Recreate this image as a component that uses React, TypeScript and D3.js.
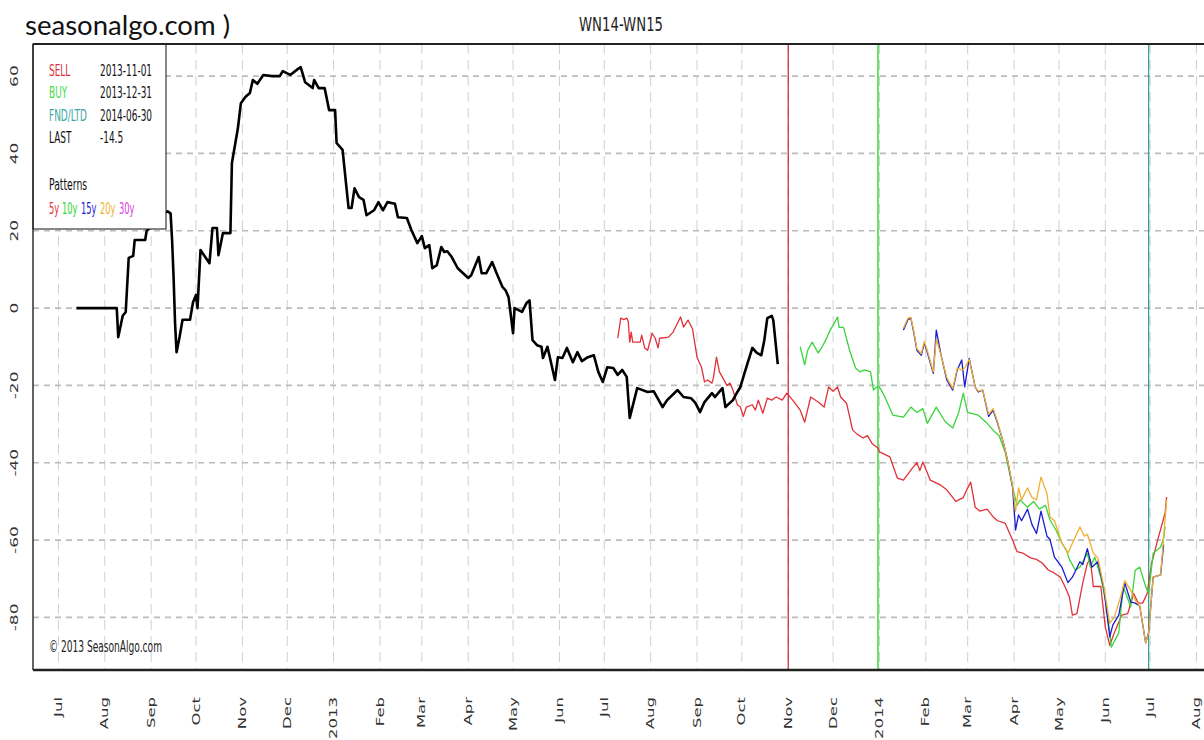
import React from "react";
import * as d3 from "d3";

type P = [string, number];

const spread: P[] = [
  ["2012-07-13",0],["2012-08-09",0],["2012-08-10",-7.5],["2012-08-13",-2],["2012-08-15",-1],["2012-08-17",13],["2012-08-20",13.5],["2012-08-21",17.6],["2012-08-28",17.6],["2012-08-29",20],["2012-09-04",22],["2012-09-07",24],["2012-09-12",25],["2012-09-14",24.5],["2012-09-15",17.6],["2012-09-16",8],["2012-09-17",-4],["2012-09-18",-11.4],["2012-09-20",-7.5],["2012-09-22",-3],["2012-09-27",-3],["2012-09-29",1.5],["2012-10-01",3.4],["2012-10-02",0],["2012-10-04",15],["2012-10-10",11.6],["2012-10-12",20.7],["2012-10-15",20.7],["2012-10-16",13.7],["2012-10-19",19.4],["2012-10-24",19.4],["2012-10-25",37.5],["2012-10-29",46.5],["2012-10-31",53],["2012-11-03",54.6],["2012-11-06",55.6],["2012-11-08",59],["2012-11-11",58],["2012-11-15",60.3],["2012-11-21",60],["2012-11-26",60],["2012-11-28",61.3],["2012-12-03",60.3],["2012-12-08",61.8],["2012-12-10",62.3],["2012-12-13",58.4],["2012-12-18",56.9],["2012-12-19",59],["2012-12-22",56.9],["2012-12-26",56.9],["2012-12-29",51.2],["2013-01-02",51.2],["2013-01-03",42.7],["2013-01-07",40.9],["2013-01-11",25.9],["2013-01-13",25.9],["2013-01-15",31],["2013-01-18",28.7],["2013-01-21",28],["2013-01-23",24],["2013-01-28",25.3],["2013-01-31",27.4],["2013-02-03",25.3],["2013-02-06",27.4],["2013-02-11",27],["2013-02-13",23.5],["2013-02-19",23.3],["2013-02-22",20.2],["2013-02-26",16.8],["2013-03-01",18.6],["2013-03-03",15.5],["2013-03-06",16.3],["2013-03-08",10.3],["2013-03-11",11.1],["2013-03-14",15.8],["2013-03-16",14.5],["2013-03-18",14.7],["2013-03-21",13.2],["2013-03-25",10.3],["2013-04-01",7.8],["2013-04-03",8.5],["2013-04-08",13.2],["2013-04-10",9],["2013-04-13",9],["2013-04-17",11.9],["2013-04-20",9],["2013-04-24",5.4],["2013-04-26",4.6],["2013-04-28",2.8],["2013-05-01",-6.5],["2013-05-02",0],["2013-05-07",-1],["2013-05-10",1.3],["2013-05-12",2],["2013-05-14",-8.3],["2013-05-17",-9.6],["2013-05-20",-10],["2013-05-21",-12.9],["2013-05-24",-10],["2013-05-29",-18.6],["2013-05-31",-12.7],["2013-06-03",-12.9],["2013-06-06",-10.3],["2013-06-10",-14],["2013-06-13",-11.4],["2013-06-16",-13.7],["2013-06-20",-12.7],["2013-06-24",-12.2],["2013-06-27",-16.5],["2013-06-30",-19.1],["2013-07-03",-15.3],["2013-07-07",-15.5],["2013-07-10",-17.3],["2013-07-13",-16],["2013-07-16",-17.8],["2013-07-18",-28.4],["2013-07-23",-20.7],["2013-07-30",-21.7],["2013-08-03",-21.5],["2013-08-09",-25.6],["2013-08-12",-23.8],["2013-08-19",-21.2],["2013-08-23",-23],["2013-08-28",-23.3],["2013-08-31",-24.6],["2013-09-03",-26.9],["2013-09-06",-24.3],["2013-09-11",-22],["2013-09-13",-23],["2013-09-18",-20.7],["2013-09-20",-25.6],["2013-09-25",-23.8],["2013-09-28",-21.7],["2013-09-30",-20.4],["2013-10-03",-16.5],["2013-10-08",-10.3],["2013-10-11",-11.6],["2013-10-14",-12.2],["2013-10-16",-8.3],["2013-10-18",-2.6],["2013-10-21",-2],["2013-10-22",-3.1],["2013-10-25",-14.5]
];

const pattern5y: P[] = [
  ["2013-07-10",-7.8],["2013-07-12",-2.6],["2013-07-14",-3],["2013-07-16",-2.6],["2013-07-17",-3.4],["2013-07-18",-8.8],["2013-07-19",-6.2],["2013-07-20",-8.8],["2013-07-25",-8.8],["2013-07-26",-7],["2013-07-28",-10.3],["2013-07-30",-10.9],["2013-08-02",-6.5],["2013-08-04",-7.8],["2013-08-06",-10.3],["2013-08-07",-7.8],["2013-08-13",-7.5],["2013-08-16",-6.2],["2013-08-21",-2.3],["2013-08-23",-4.9],["2013-08-26",-3.1],["2013-08-29",-5.4],["2013-09-01",-12.7],["2013-09-04",-15.3],["2013-09-06",-19.1],["2013-09-08",-18.6],["2013-09-11",-19.4],["2013-09-12",-18],["2013-09-14",-12.7],["2013-09-16",-16.5],["2013-09-21",-20],["2013-09-23",-19.4],["2013-09-25",-21.2],["2013-09-28",-25],["2013-09-30",-25.6],["2013-10-02",-28],["2013-10-04",-25.6],["2013-10-08",-25],["2013-10-10",-26.4],["2013-10-12",-23.8],["2013-10-15",-27.2],["2013-10-18",-23.3],["2013-10-21",-23.8],["2013-10-24",-23],["2013-10-28",-23.8],["2013-10-31",-22],["2013-11-04",-23.8],["2013-11-09",-26.4],["2013-11-12",-29.5],["2013-11-16",-23],["2013-11-21",-24.3],["2013-11-25",-25.6],["2013-11-28",-20.4],["2013-12-01",-21.5],["2013-12-04",-20.4],["2013-12-06",-23],["2013-12-10",-24.6],["2013-12-14",-31.5],["2013-12-17",-32.6],["2013-12-21",-33.6],["2013-12-24",-33],["2013-12-27",-35],["2013-12-31",-36.2],["2014-01-01",-37.2],["2014-01-08",-38.5],["2014-01-13",-44],["2014-01-17",-44.5],["2014-01-23",-41.4],["2014-01-26",-40],["2014-01-28",-42],["2014-01-30",-39.8],["2014-02-04",-44.5],["2014-02-11",-45.8],["2014-02-15",-47],["2014-02-21",-50],["2014-02-26",-49],["2014-03-01",-46.5],["2014-03-03",-45],["2014-03-06",-51.5],["2014-03-09",-52.5],["2014-03-14",-52],["2014-03-18",-54],["2014-03-21",-55],["2014-03-26",-55.6],["2014-03-31",-60],["2014-04-03",-63],["2014-04-07",-63.4],["2014-04-12",-64.6],["2014-04-16",-65],["2014-04-20",-66],["2014-04-24",-67.8],["2014-04-27",-68.3],["2014-05-02",-69.6],["2014-05-05",-72],["2014-05-08",-74.7],["2014-05-10",-79.4],["2014-05-13",-79],["2014-05-17",-71],["2014-05-20",-66],["2014-05-22",-65],["2014-05-24",-72],["2014-05-29",-72],["2014-06-01",-82.5],["2014-06-04",-87.2],["2014-06-07",-84],["2014-06-12",-79.4],["2014-06-16",-79],["2014-06-20",-73.8],["2014-06-23",-76.3],["2014-06-26",-76.3],["2014-06-29",-73.8],["2014-07-02",-66],["2014-07-06",-60],["2014-07-11",-53],["2014-07-12",-48.9]
];

const pattern10y: P[] = [
  ["2013-11-09",-10],["2013-11-12",-14.7],["2013-11-14",-10.9],["2013-11-17",-8.8],["2013-11-21",-11.6],["2013-11-24",-9.8],["2013-11-27",-7.5],["2013-11-29",-5.7],["2013-12-01",-4.4],["2013-12-04",-2.3],["2013-12-05",-5],["2013-12-08",-5],["2013-12-12",-10.9],["2013-12-16",-15.5],["2013-12-19",-16.5],["2013-12-22",-16],["2013-12-26",-16.5],["2013-12-28",-21.2],["2013-12-30",-20.4],["2014-01-01",-20.4],["2014-01-04",-22.5],["2014-01-10",-27.7],["2014-01-17",-28.2],["2014-01-22",-25.6],["2014-01-26",-27],["2014-01-30",-26],["2014-02-02",-29.8],["2014-02-08",-25.6],["2014-02-14",-29.4],["2014-02-19",-31],["2014-02-23",-27],["2014-02-26",-22],["2014-03-01",-27],["2014-03-08",-27.7],["2014-03-14",-29.8],["2014-03-19",-32],["2014-03-22",-33],["2014-03-26",-37.2],["2014-03-29",-42.7],["2014-03-31",-46.3],["2014-04-03",-51],["2014-04-05",-49.6],["2014-04-10",-51.5],["2014-04-14",-50],["2014-04-18",-52],["2014-04-22",-51],["2014-04-25",-54.8],["2014-04-29",-57.4],["2014-05-03",-60.8],["2014-05-06",-62.6],["2014-05-08",-65],["2014-05-12",-67.8],["2014-05-15",-67],["2014-05-20",-63.4],["2014-05-22",-67],["2014-05-25",-64.4],["2014-05-29",-69.6],["2014-06-02",-77.3],["2014-06-05",-87.7],["2014-06-10",-84],["2014-06-13",-72],["2014-06-18",-77.3],["2014-06-21",-67.8],["2014-06-24",-67],["2014-06-28",-72],["2014-06-30",-73.8],["2014-07-03",-63.4],["2014-07-08",-61.8],["2014-07-10",-59.5],["2014-07-11",-56.6]
];

const pattern15y: P[] = [
  ["2014-01-17",-5.7],["2014-01-20",-3],["2014-01-22",-2.6],["2014-01-24",-6.5],["2014-01-26",-10.9],["2014-01-29",-12.2],["2014-01-31",-9],["2014-02-02",-11.5],["2014-02-06",-16.9],["2014-02-08",-5.7],["2014-02-11",-11.8],["2014-02-15",-18.6],["2014-02-19",-21.2],["2014-02-22",-16],["2014-02-25",-13.4],["2014-02-27",-20.4],["2014-03-02",-13],["2014-03-06",-20.4],["2014-03-08",-21.7],["2014-03-11",-21.2],["2014-03-15",-28],["2014-03-18",-26.4],["2014-03-21",-29.8],["2014-03-25",-35],["2014-03-28",-40],["2014-03-31",-46.3],["2014-04-02",-57.4],["2014-04-04",-53.5],["2014-04-06",-55],["2014-04-10",-52],["2014-04-13",-56],["2014-04-16",-58.3],["2014-04-19",-52.5],["2014-04-23",-59],["2014-04-25",-59.8],["2014-04-28",-64.4],["2014-05-03",-67],["2014-05-07",-71],["2014-05-10",-69.6],["2014-05-15",-65.6],["2014-05-17",-66.3],["2014-05-20",-62.2],["2014-05-23",-67],["2014-05-27",-65.6],["2014-05-31",-72.5],["2014-06-04",-85],["2014-06-06",-82],["2014-06-10",-79.4],["2014-06-14",-71],["2014-06-18",-76],["2014-06-21",-76.3],["2014-06-24",-77],["2014-06-28",-86.6],["2014-06-30",-83.8],["2014-07-03",-69.6],["2014-07-08",-69],["2014-07-10",-61.2]
];

const pattern20y: P[] = [
  ["2014-01-17",-5.2],["2014-01-20",-2.6],["2014-01-22",-2.4],["2014-01-24",-6],["2014-01-26",-10.5],["2014-01-29",-11.8],["2014-01-31",-8.6],["2014-02-02",-11],["2014-02-06",-16.5],["2014-02-08",-8],["2014-02-11",-12],["2014-02-15",-18],["2014-02-19",-20.8],["2014-02-22",-15.5],["2014-02-25",-16],["2014-02-27",-15.5],["2014-03-02",-13.3],["2014-03-06",-20.4],["2014-03-08",-21.5],["2014-03-11",-21.2],["2014-03-15",-27.5],["2014-03-18",-26],["2014-03-21",-29.5],["2014-03-25",-35],["2014-03-28",-40],["2014-03-31",-46],["2014-04-02",-52.5],["2014-04-04",-46.5],["2014-04-06",-49.6],["2014-04-10",-46.5],["2014-04-13",-49],["2014-04-16",-49.6],["2014-04-19",-43.7],["2014-04-23",-48],["2014-04-25",-54],["2014-04-28",-55],["2014-05-03",-60.8],["2014-05-07",-63.4],["2014-05-10",-60.8],["2014-05-15",-56.6],["2014-05-18",-59],["2014-05-20",-58.5],["2014-05-24",-63.4],["2014-05-27",-64.6],["2014-05-31",-72],["2014-06-04",-81.5],["2014-06-07",-80],["2014-06-11",-75],["2014-06-14",-70.5],["2014-06-18",-73],["2014-06-21",-75.5],["2014-06-24",-77],["2014-06-28",-86.6],["2014-06-30",-84],["2014-07-03",-69.6],["2014-07-08",-69],["2014-07-12",-49.6]
];

const yTicks = [-80, -60, -40, -20, 0, 20, 40, 60];
const sellDate = "2013-11-01";
const buyDate = "2013-12-31";
const fndDate = "2014-06-30";
const lastValue = "-14.5";

const legendRows = [
  { label: "SELL", value: sellDate, color: "#d8303c" },
  { label: "BUY", value: buyDate, color: "#44dd44" },
  { label: "FND/LTD", value: fndDate, color: "#3aa7a7" },
  { label: "LAST", value: lastValue, color: "#111111" },
];
const patternLegend = [
  { label: "5y", color: "#e0323a", x: 49 },
  { label: "10y", color: "#33d433", x: 62 },
  { label: "15y", color: "#1a1ad0", x: 81 },
  { label: "20y", color: "#f0b030", x: 100 },
  { label: "30y", color: "#e040e0", x: 119 },
];

const parse = d3.timeParse("%Y-%m-%d");

export default function App() {
  const W = 1204, H = 740;
  const L = 33, T = 44, R = 1204, B = 670;
  const x = d3.scaleTime().domain([parse("2012-06-14")!, parse("2014-08-06")!]).range([L, R]);
  const y = d3.scaleLinear().domain([-93.6, 68.3]).range([B, T]);
  const line = d3.line<P>().x((d) => x(parse(d[0])!)).y((d) => y(d[1]));
  const months = d3.timeMonth.range(parse("2012-07-01")!, parse("2014-08-02")!);
  const fmt = (d: Date) => (d.getMonth() === 0 ? d3.timeFormat("%Y")(d) : d3.timeFormat("%b")(d));
  const sx = 0.62;
  const ls = 0.56;

  const series = [
    { data: pattern5y, color: "#e0323a", w: 1.3 },
    { data: pattern10y, color: "#3ad43a", w: 1.3 },
    { data: pattern15y, color: "#1a1ad0", w: 1.3 },
    { data: pattern20y, color: "#eeb030", w: 1.3 },
  ];

  return (
    <svg width={W} height={H} style={{ position: "absolute", left: 0, top: 0, background: "#fff" }} fontFamily="DejaVu Sans">
      <rect x={0} y={0} width={W} height={H} fill="#fff" />
      {months.map((m, i) => (
        <line key={"v" + i} x1={x(m)} x2={x(m)} y1={T} y2={B} stroke="#cfcfcf" strokeWidth={1} strokeDasharray="10,6" />
      ))}
      {yTicks.map((t) => (
        <line key={"h" + t} x1={L} x2={R} y1={y(t)} y2={y(t)} stroke="#bcbcbc" strokeWidth={1.6} strokeDasharray="6,5" />
      ))}
      <line x1={x(parse(sellDate)!)} x2={x(parse(sellDate)!)} y1={T} y2={B} stroke="#cc2233" strokeWidth={1.2} />
      <line x1={x(parse(buyDate)!)} x2={x(parse(buyDate)!)} y1={T} y2={B} stroke="#44dd44" strokeWidth={1.6} />
      <line x1={x(parse(fndDate)!)} x2={x(parse(fndDate)!)} y1={T} y2={B} stroke="#2a9a8e" strokeWidth={1.2} />
      {series.map((s, i) => (
        <path key={"s" + i} d={line(s.data) || ""} fill="none" stroke={s.color} strokeWidth={s.w} strokeLinejoin="round" />
      ))}
      <path d={line(spread) || ""} fill="none" stroke="#000" strokeWidth={2.6} strokeLinejoin="round" />
      <rect x={L} y={T} width={133} height={185} fill="#fff" stroke="#111" strokeWidth={1} />
      {legendRows.map((r, i) => {
        const by = [76, 98, 121, 143][i];
        return (
          <g key={r.label} fontSize={16}>
            <text transform={`translate(49,${by}) scale(${ls},1)`} fill={r.color}>{r.label}</text>
            <text transform={`translate(100,${by}) scale(${ls},1)`} fill="#111">{r.value}</text>
          </g>
        );
      })}
      <text transform={`translate(49,190) scale(0.58,1)`} fontSize={16} fill="#111">Patterns</text>
      {patternLegend.map((p) => (
        <text key={p.label} transform={`translate(${p.x},214) scale(0.52,1)`} fontSize={16} fill={p.color}>{p.label}</text>
      ))}
      <text x={49} y={652} fontSize={16} fill="#222" textLength={113} lengthAdjust="spacingAndGlyphs">© 2013 SeasonAlgo.com</text>
      <line x1={L} x2={R} y1={T} y2={T} stroke="#222" strokeWidth={2} />
      <line x1={L} x2={R} y1={B} y2={B} stroke="#222" strokeWidth={2.6} />
      <line x1={L} x2={L} y1={T} y2={B} stroke="#222" strokeWidth={1.4} />
      {yTicks.map((t) => (
        <text key={"yl" + t} transform={`translate(14,${y(t)}) scale(${sx},1) rotate(-90)`} textAnchor="middle" dy="0.35em" fontSize={17} fill="#333">{t}</text>
      ))}
      {months.map((m, i) => (
        <text key={"xl" + i} transform={`translate(${x(m)},697) scale(${sx},1) rotate(-90)`} textAnchor="end" dy="0.35em" fontSize={16.5} fill="#333">{fmt(m)}</text>
      ))}
      <text x={579} y={31} fontSize={20} fill="#222" textLength={84} lengthAdjust="spacingAndGlyphs">WN14-WN15</text>
      <text x={25} y={35} fontSize={27} fontFamily="Lato" fill="#111" textLength={205} lengthAdjust="spacingAndGlyphs">seasonalgo.com )</text>
    </svg>
  );
}
